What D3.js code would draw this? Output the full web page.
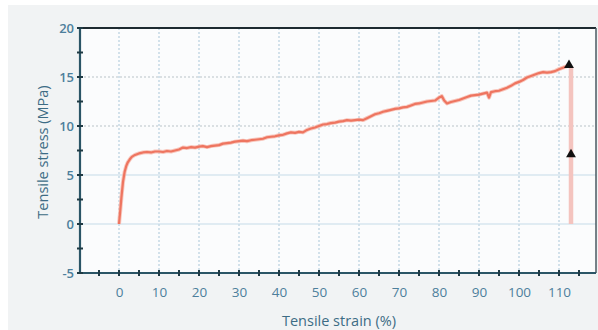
<!DOCTYPE html>
<html>
<head>
<meta charset="utf-8">
<script src="https://cdn.jsdelivr.net/npm/d3@7"></script>
<style>
  html, body { margin: 0; padding: 0; background: #ffffff; }
  svg { display: block; }
  text { font-family: "Open Sans", "Noto Sans", sans-serif; }
</style>
</head>
<body>
<svg id="chart" width="598" height="330"></svg>
<script>
// Tensile test: strain (%) vs stress (MPa)
const strain = [0, 0.3, 0.6, 1.0, 1.4, 1.8, 2.2, 2.7, 3.2, 4, 5, 6, 7, 8, 9, 10, 11, 12, 13, 14, 15, 16, 17, 18, 19, 20,
  21, 22, 23, 24, 25, 26, 27, 28, 29, 30, 31, 32, 33, 34, 35, 36, 37, 38, 39, 40,
  41, 42, 43, 44, 45, 46, 47, 48, 49, 50, 51, 52, 53, 54, 55, 56, 57, 58, 59, 60,
  61, 62, 63, 64, 65, 66, 67, 68, 69, 70, 71, 72, 73, 74, 75, 76, 77, 78, 79, 80,
  80.7, 81.3, 82, 83, 84, 85, 86, 87, 88, 89, 90, 91, 92, 92.5, 93, 94, 95, 96, 97, 98, 99, 100,
  101, 102, 103, 104, 105, 106, 107, 108, 109, 110, 111, 112];
const stress = [0, 1.3, 2.7, 4.3, 5.3, 5.9, 6.3, 6.6, 6.85, 7.05, 7.2, 7.3, 7.35, 7.3, 7.4, 7.4, 7.35, 7.45, 7.4, 7.5, 7.6, 7.8, 7.75, 7.85, 7.8, 7.9,
  7.95, 7.85, 7.95, 8.0, 8.05, 8.2, 8.25, 8.3, 8.4, 8.45, 8.5, 8.45, 8.55, 8.6, 8.65, 8.7, 8.85, 8.9, 8.95, 9.05,
  9.1, 9.25, 9.35, 9.3, 9.4, 9.35, 9.6, 9.75, 9.85, 10.0, 10.15, 10.2, 10.3, 10.35, 10.45, 10.5, 10.6, 10.55, 10.6, 10.65,
  10.6, 10.8, 11.0, 11.2, 11.3, 11.45, 11.55, 11.65, 11.75, 11.8, 11.9, 11.95, 12.1, 12.25, 12.3, 12.4, 12.5, 12.55, 12.6, 12.9,
  13.05, 12.6, 12.3, 12.45, 12.55, 12.65, 12.8, 12.95, 13.1, 13.15, 13.2, 13.3, 13.4, 12.9, 13.45, 13.55, 13.6, 13.75, 13.9, 14.1, 14.35, 14.5,
  14.7, 14.95, 15.1, 15.25, 15.4, 15.5, 15.45, 15.5, 15.6, 15.8, 15.95, 16.1];

// Break marker: vertical drop at break strain, and the two marked points
const breakStrain = 113;
const breakStress = [16.1, 0];
const markerStrain = [112.5, 113];
const markerStress = [16.2, 7.1];

// Axis tick values
const xLabels = [0, 10, 20, 30, 40, 50, 60, 70, 80, 90, 100, 110];
const xMinor = [-5, 0, 5, 10, 15, 20, 25, 30, 35, 40, 45, 50, 55, 60, 65, 70, 75, 80, 85, 90, 95, 100, 105, 110, 115];
const yLabels = [-5, 0, 5, 10, 15, 20];
const yMinor = [-5, -2.5, 0, 2.5, 5, 7.5, 10, 12.5, 15, 17.5, 20];

const svg = d3.select("#chart");
const W = 598, H = 330;
const plot = { left: 80, right: 596, top: 28, bottom: 273 };

const x = d3.scaleLinear().domain([-9.75, 119.25]).range([plot.left, plot.right]);
const y = d3.scaleLinear().domain([-5, 20]).range([plot.bottom, plot.top]);

// Panel background
svg.append("rect").attr("x", 0).attr("y", 0).attr("width", W).attr("height", H).attr("fill", "#ffffff");
svg.append("rect").attr("x", 8).attr("y", 5).attr("width", W - 8).attr("height", H - 5).attr("fill", "#f1f3f4");
svg.append("rect").attr("x", plot.left).attr("y", plot.top)
  .attr("width", plot.right - plot.left).attr("height", plot.bottom - plot.top)
  .attr("fill", "#fbfcfd");

// Grid
const grid = svg.append("g");
grid.selectAll("line.vx").data(xLabels).join("line")
  .attr("x1", d => x(d)).attr("x2", d => x(d))
  .attr("y1", plot.top).attr("y2", plot.bottom)
  .attr("stroke", "#a9c6d8").attr("stroke-width", 1).attr("stroke-dasharray", "2,2");
grid.selectAll("line.hy").data(yLabels.filter(d => d > -5 && d < 20)).join("line")
  .attr("x1", plot.left).attr("x2", plot.right)
  .attr("y1", d => y(d)).attr("y2", d => y(d))
  .attr("stroke", d => d >= 10 ? "#b9c3c8" : "#c5dbe8")
  .attr("stroke-width", 1)
  .attr("stroke-dasharray", d => d >= 10 ? "2,2" : null);

// Frame: top and right borders
svg.append("line").attr("x1", plot.left).attr("x2", plot.right).attr("y1", plot.top).attr("y2", plot.top)
  .attr("stroke", "#1d2a30").attr("stroke-width", 2);
svg.append("line").attr("x1", plot.right).attr("x2", plot.right).attr("y1", plot.top).attr("y2", plot.bottom)
  .attr("stroke", "#4a5a62").attr("stroke-width", 1.5);

// Break line (pale)
svg.append("line")
  .attr("x1", x(breakStrain)).attr("x2", x(breakStrain))
  .attr("y1", y(breakStress[0])).attr("y2", y(breakStress[1]))
  .attr("stroke", "#f4c4bf").attr("stroke-width", 4.5);

// Stress-strain curve
const pts = strain.map((s, i) => [s, stress[i]]);
const line = d3.line().x(d => x(d[0])).y(d => y(d[1]));
svg.append("path").datum(pts).attr("d", line)
  .attr("fill", "none").attr("stroke", "#f6b0a3").attr("stroke-width", 4)
  .attr("stroke-linejoin", "round").attr("opacity", 0.7);
svg.append("path").datum(pts).attr("d", line)
  .attr("fill", "none").attr("stroke", "#ee7560").attr("stroke-width", 2.2)
  .attr("stroke-linejoin", "round");

// Markers
const tri = d3.symbol().type(d3.symbolTriangle).size(42);
svg.selectAll("path.marker").data(markerStrain).join("path")
  .attr("class", "marker")
  .attr("d", tri)
  .attr("transform", (d, i) => `translate(${x(d)},${y(markerStress[i])})`)
  .attr("fill", "#111111");

// Axes
const axisColor = "#2b5566";
const labelColor = "#4d7f9c";

const xAxisG = svg.append("g").attr("transform", `translate(0,${plot.bottom})`)
  .call(d3.axisBottom(x).tickValues(xLabels).tickSize(0).tickPadding(14).tickFormat(d => String(d)));
xAxisG.select(".domain").remove();
xAxisG.selectAll("text").attr("fill", labelColor).attr("font-size", 13.5);

const yAxisG = svg.append("g").attr("transform", `translate(${plot.left},0)`)
  .call(d3.axisLeft(y).tickValues(yLabels).tickSize(0).tickPadding(6).tickFormat(d => String(d)));
yAxisG.select(".domain").remove();
yAxisG.selectAll("text").attr("fill", labelColor).attr("font-size", 13).attr("font-weight", 600);

// Axis lines
svg.append("line").attr("x1", plot.left).attr("x2", plot.right).attr("y1", plot.bottom).attr("y2", plot.bottom)
  .attr("stroke", axisColor).attr("stroke-width", 2.2);
svg.append("line").attr("x1", plot.left).attr("x2", plot.left).attr("y1", plot.top).attr("y2", plot.bottom)
  .attr("stroke", axisColor).attr("stroke-width", 2.2);

// Cross ticks
svg.selectAll("line.xt").data(xMinor).join("line")
  .attr("x1", d => x(d)).attr("x2", d => x(d))
  .attr("y1", plot.bottom - 3).attr("y2", plot.bottom + 3)
  .attr("stroke", "#1f3a44").attr("stroke-width", 2);
svg.selectAll("line.yt").data(yMinor).join("line")
  .attr("x1", plot.left - 3).attr("x2", plot.left + 3)
  .attr("y1", d => y(d)).attr("y2", d => y(d))
  .attr("stroke", "#1f3a44").attr("stroke-width", 2);

// Axis titles
svg.append("text").attr("x", 339).attr("y", 326)
  .attr("text-anchor", "middle").attr("font-size", 14.5)
  .attr("fill", "#3d6c85").text("Tensile strain (%)");
svg.append("text")
  .attr("transform", `translate(48,152) rotate(-90)`)
  .attr("text-anchor", "middle").attr("font-size", 14.5)
  .attr("fill", "#3d6c85").text("Tensile stress (MPa)");
</script>
</body>
</html>
